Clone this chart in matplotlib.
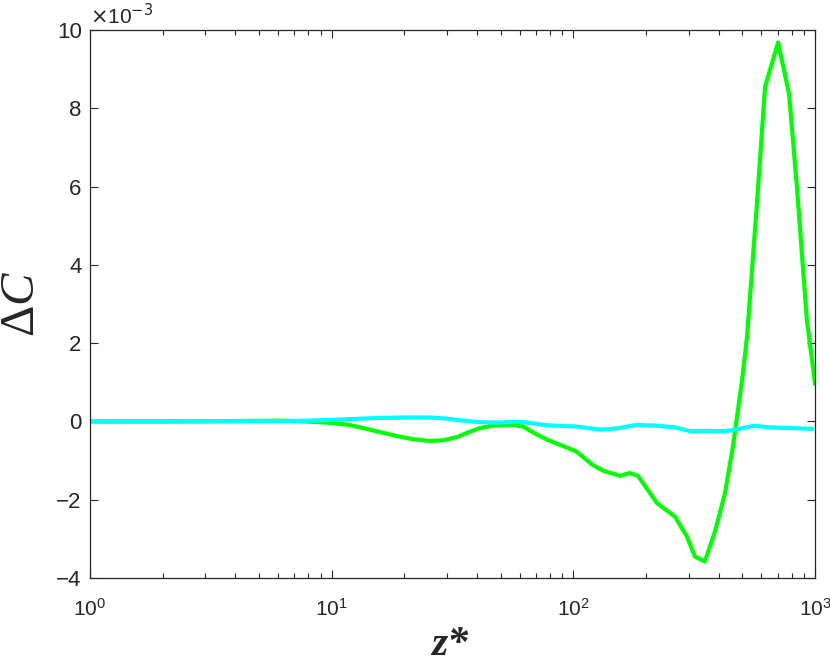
import numpy as np
import matplotlib
matplotlib.use('Agg')
import matplotlib.pyplot as plt
from matplotlib.ticker import LogLocator, FixedLocator

plt.rcParams['font.family'] = ['Liberation Sans', 'DejaVu Sans']
plt.rcParams['mathtext.fontset'] = 'custom'
plt.rcParams['mathtext.rm'] = 'Liberation Serif'
plt.rcParams['mathtext.it'] = 'Liberation Serif:italic'

# values in units of 1e-3
z_green = [1, 2, 4, 6, 7.75, 9.5, 11.6, 13.5, 15.8, 18.5, 21.5, 25.5, 29, 33, 37,
           41, 47, 56, 62, 68, 78, 90, 103, 120, 133,
           156, 171, 185, 222, 263, 295, 318, 350, 385, 424, 457, 499, 523,
           575, 621, 703, 780, 841, 925, 1000]
dc_green = [0, 0, 0.01, 0.02, 0.0, -0.03, -0.08, -0.17, -0.27, -0.37, -0.45,
            -0.5, -0.48, -0.4, -0.27, -0.17, -0.1, -0.09, -0.13, -0.28,
            -0.47, -0.62, -0.77, -1.11, -1.26, -1.39, -1.32, -1.39, -2.09, -2.43,
            -2.94, -3.45, -3.58, -2.82, -1.83, -0.65, 1.06, 2.16, 5.58, 8.55, 9.68,
            8.38, 6.0, 2.59, 0.97]

z_cyan = [1, 3, 6, 8, 10, 12, 15.8, 20, 25.5, 29, 34, 41, 50, 56, 62, 70, 78, 92,
          103, 115, 130, 150, 182, 222, 263, 305, 350, 424, 475, 560, 640, 970]
dc_cyan = [0, 0, 0.01, 0.02, 0.04, 0.06, 0.09, 0.1, 0.1, 0.08, 0.03, -0.02, -0.03,
           -0.01, -0.02, -0.06, -0.1, -0.12, -0.13, -0.17, -0.21, -0.18, -0.09,
           -0.11, -0.15, -0.25, -0.24, -0.25, -0.2, -0.11, -0.15, -0.19]

fig = plt.figure(figsize=(8.3, 6.64), dpi=100)
ax = fig.add_axes([0.1084, 0.1295, 0.8736, 0.8253])

ax.plot(z_green, dc_green, color='#00ff00', lw=3)
ax.plot(z_cyan, dc_cyan, color='#00ffff', lw=3)

ax.set_xscale('log')
ax.set_xlim(1, 1000)
ax.set_ylim(-4, 10)
ax.yaxis.set_major_locator(FixedLocator([-4, -2, 0, 2, 4, 6, 8, 10]))
ax.xaxis.set_major_locator(LogLocator(base=10, numticks=10))
ax.xaxis.set_minor_locator(LogLocator(base=10, subs=np.arange(2, 10), numticks=20))

ax.tick_params(which='both', direction='in', top=True, right=True,
               color='#262626', labelcolor='#262626')
ax.tick_params(which='major', length=6, width=0.8, labelsize=16, pad=6)
ax.tick_params(axis='x', which='major', pad=14, labelsize=15)
ax.tick_params(which='minor', length=3.5, width=0.8)
for s in ax.spines.values():
    s.set_color('#262626')
    s.set_linewidth(0.9)

ax.text(0.0, 1.003, r'$\times$10$^{-3}$', transform=ax.transAxes,
        fontsize=15, color='#262626', ha='left', va='bottom',
        fontfamily='Liberation Sans', math_fontfamily='dejavusans')

ax.set_ylabel(r'$\Delta C$', fontsize=35, color='#262626', labelpad=9)
fig.text(0.542, 0.014, 'z*', fontsize=30, color='#262626', ha='center',
         va='baseline', fontfamily='Liberation Serif', fontweight='bold',
         fontstyle='italic')

fig.savefig('out.png', dpi=100, facecolor='white')
